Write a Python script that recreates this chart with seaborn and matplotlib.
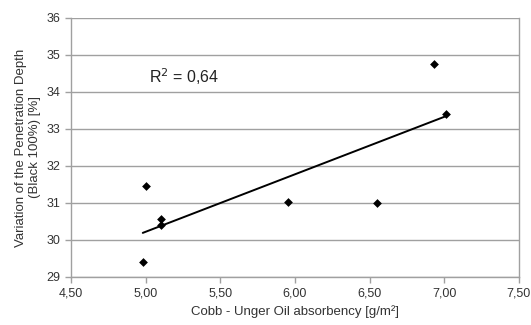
import numpy as np
import pandas as pd
import seaborn as sns
import matplotlib.pyplot as plt
from matplotlib.ticker import FuncFormatter

# Data
oil_absorbency = [4.98, 5.00, 5.10, 5.10, 5.95, 6.55, 6.93, 7.01]
penetration_var = [29.41, 31.45, 30.57, 30.41, 31.03, 31.01, 34.75, 33.41]
r2_label = "R$^2$ = 0,64"

df = pd.DataFrame({"x": oil_absorbency, "y": penetration_var})

sns.set_style("white")
plt.rcParams["font.family"] = ["Liberation Sans", "DejaVu Sans"]

fig, ax = plt.subplots(figsize=(5.31, 3.25), dpi=100)

# grid first so it stays behind
ax.set_axisbelow(True)
ax.yaxis.grid(True, color="#a0a0a0", linewidth=1.0)

sns.scatterplot(
    data=df, x="x", y="y",
    marker="D", s=20, color="black",
    edgecolor="black", linewidth=0, ax=ax, zorder=3
)

# linear trend line
coef = np.polyfit(df["x"], df["y"], 1)
xs = np.array([df["x"].min(), df["x"].max()])
sns.lineplot(x=xs, y=np.polyval(coef, xs), color="black",
             linewidth=1.4, ax=ax, zorder=2)

ax.text(5.02, 34.42, r2_label, fontsize=11.5, va="center", ha="left",
        color="#222222")

ax.set_xlim(4.5, 7.5)
ax.set_ylim(29, 36)
ax.set_xticks(np.arange(4.5, 7.51, 0.5))
ax.set_yticks(range(29, 37))
ax.xaxis.set_major_formatter(FuncFormatter(lambda v, p: f"{v:.2f}".replace(".", ",")))

ax.set_xlabel("Cobb - Unger Oil absorbency [g/m²]", fontsize=9.5, color="#333333")
ax.set_ylabel("Variation of the Penetration Depth\n(Black 100%) [%]",
              fontsize=9.5, color="#333333")

for side in ["left", "bottom", "right", "top"]:
    ax.spines[side].set_color("#a0a0a0")
    ax.spines[side].set_linewidth(1.0)
ax.spines["top"].set_visible(False)

ax.tick_params(axis="both", direction="out", length=4, width=1,
               color="#a0a0a0", labelsize=9, labelcolor="#333333",
               bottom=True, left=True)

plt.subplots_adjust(left=0.134, right=0.977, top=0.945, bottom=0.148)
plt.savefig("out.png", dpi=100)
